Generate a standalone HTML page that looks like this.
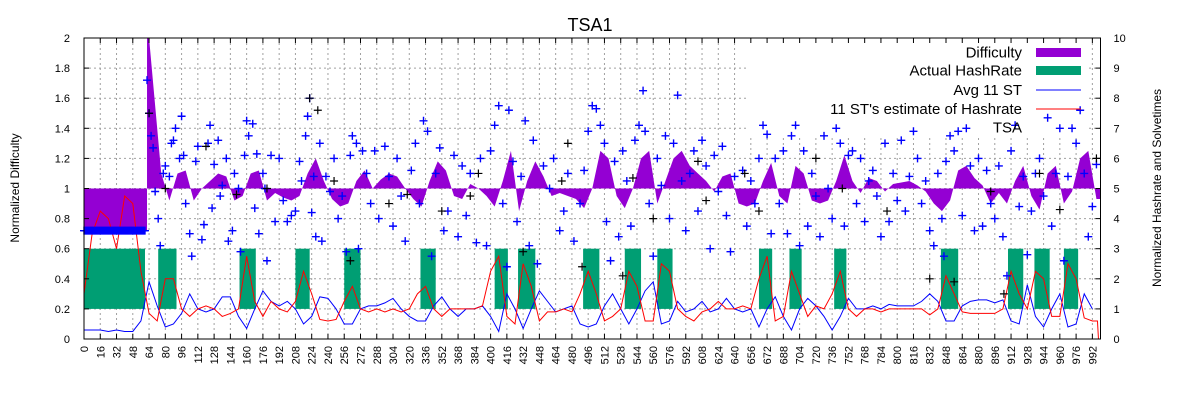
<!DOCTYPE html>
<html><head><meta charset="utf-8"><style>
html,body{margin:0;padding:0;background:#fff;}
svg{display:block;font-family:"Liberation Sans",sans-serif;}
</style></head><body>
<svg id="chart" width="1200" height="400" viewBox="0 0 1200 400"></svg>
<script>
// ---- data ----
const diffStep = 8;
const difficulty = [0.72,0.72,0.72,0.72,0.72,0.72,0.72,0.72,2.1,1.1,0.92,1.1,1.12,0.92,1.0,1.05,1.1,1.08,0.92,0.95,1.1,1.12,0.92,0.97,0.94,0.92,0.95,1.1,1.2,1.05,0.93,0.88,0.9,1.05,1.12,1.0,1.06,1.1,1.08,1.0,0.93,0.88,1.05,1.18,1.12,0.95,0.93,1.03,1.0,0.95,0.88,1.05,1.25,0.85,1.05,1.18,1.08,0.95,0.97,0.95,0.93,0.87,1.0,1.25,1.2,0.95,0.87,1.0,1.2,1.25,0.9,1.05,1.2,1.25,1.15,1.1,1.05,0.98,1.08,1.1,0.9,0.88,0.9,1.05,1.17,0.95,0.9,1.15,1.1,0.92,0.9,0.92,1.05,1.22,1.05,0.97,1.07,1.05,0.98,1.03,1.04,1.05,1.02,0.98,0.9,0.85,0.92,1.12,1.15,1.07,1.02,0.9,0.97,0.9,1.05,1.15,0.95,0.86,1.1,1.15,0.9,0.98,1.2,1.25,0.93];
const avgST = [0.06,0.06,0.06,0.05,0.06,0.05,0.05,0.12,0.38,0.22,0.08,0.1,0.17,0.3,0.2,0.18,0.2,0.28,0.28,0.15,0.07,0.2,0.32,0.25,0.22,0.25,0.2,0.1,0.15,0.28,0.27,0.2,0.1,0.1,0.2,0.22,0.22,0.24,0.27,0.2,0.15,0.12,0.12,0.22,0.28,0.2,0.15,0.2,0.2,0.22,0.15,0.05,0.3,0.2,0.07,0.2,0.32,0.25,0.18,0.2,0.22,0.1,0.08,0.1,0.22,0.3,0.2,0.1,0.2,0.32,0.38,0.1,0.12,0.25,0.18,0.2,0.25,0.18,0.2,0.27,0.2,0.18,0.2,0.08,0.2,0.28,0.15,0.06,0.2,0.27,0.22,0.15,0.06,0.15,0.27,0.2,0.2,0.22,0.2,0.23,0.22,0.22,0.22,0.25,0.3,0.25,0.12,0.12,0.22,0.25,0.26,0.26,0.24,0.26,0.12,0.1,0.36,0.15,0.08,0.2,0.3,0.08,0.1,0.3,0.2];
const estHash = [0.3,0.7,0.85,0.8,0.6,0.95,0.9,0.45,0.17,0.12,0.4,0.4,0.2,0.15,0.2,0.22,0.2,0.15,0.17,0.2,0.55,0.25,0.15,0.25,0.2,0.18,0.25,0.45,0.3,0.13,0.12,0.13,0.25,0.35,0.2,0.18,0.2,0.18,0.2,0.18,0.2,0.3,0.35,0.2,0.15,0.2,0.2,0.2,0.2,0.22,0.45,0.55,0.15,0.1,0.5,0.35,0.12,0.18,0.18,0.2,0.18,0.3,0.45,0.3,0.12,0.15,0.2,0.45,0.35,0.12,0.12,0.5,0.45,0.2,0.15,0.12,0.18,0.2,0.25,0.2,0.2,0.22,0.2,0.4,0.55,0.12,0.15,0.45,0.3,0.15,0.22,0.2,0.3,0.45,0.2,0.15,0.2,0.2,0.18,0.2,0.2,0.2,0.2,0.2,0.16,0.2,0.42,0.3,0.18,0.17,0.17,0.17,0.17,0.2,0.45,0.3,0.2,0.45,0.4,0.15,0.15,0.5,0.4,0.14,0.12];
const hashStart = [0,73,153,208,256,331,404,427,491,532,564,664,694,738,843,909,935,964];
const hashEnd   = [60,91,169,222,272,346,417,444,507,548,579,677,706,750,860,924,950,978];
const hashHigh = 3, hashLow = 1;
const tsaInitValue = 0.72, tsaInitEnd = 60;
const tsaX = [62,64,66,68,70,73,75,78,80,84,86,88,90,94,96,98,100,104,106,110,112,116,118,122,124,126,128,132,134,136,140,142,146,148,152,154,158,160,162,166,168,170,172,176,178,180,184,188,192,196,200,204,208,212,214,218,220,222,224,226,228,232,234,238,242,246,250,254,258,262,264,268,270,274,278,282,286,290,296,300,304,308,312,316,322,326,330,334,338,342,346,350,354,358,364,368,372,376,380,386,390,396,400,404,408,412,416,418,422,426,430,434,438,442,446,452,458,462,468,472,476,482,488,492,496,500,504,508,512,514,518,522,526,530,534,538,542,546,550,552,556,560,564,568,572,576,580,584,588,592,596,600,604,608,612,616,620,624,628,632,636,640,648,652,656,660,664,668,672,676,680,684,688,692,696,700,704,708,712,716,720,724,728,732,736,740,744,748,752,756,760,764,768,772,776,780,784,788,792,796,800,804,808,812,816,820,824,828,832,836,840,844,846,848,852,856,860,864,868,872,876,880,884,888,892,896,900,904,908,912,916,920,924,928,932,936,940,944,948,952,956,960,964,968,972,976,980,984,988,992,996];
const tsaY = [1.72,1.5,1.35,1.27,0.98,0.8,0.62,1.1,1.15,1.08,1.3,1.32,1.4,1.2,1.48,1.22,0.9,0.7,0.55,1.18,1.28,0.66,0.76,1.3,1.42,0.87,1.16,1.32,0.95,1.02,1.2,0.65,0.72,1.1,1.0,0.58,1.22,1.45,1.35,1.43,0.87,1.23,0.7,1.1,1.0,0.52,1.22,0.78,1.2,0.92,0.78,0.82,0.85,1.18,1.05,1.35,1.48,1.6,0.84,1.08,0.68,1.3,0.65,1.08,0.98,1.2,0.8,0.95,0.58,1.22,1.35,1.3,0.6,1.25,1.1,0.9,1.25,0.8,1.28,1.08,0.75,1.2,0.95,0.65,1.12,1.3,0.9,1.45,1.38,0.55,1.1,1.27,0.72,0.85,1.22,0.68,1.15,0.82,1.1,0.64,1.2,0.62,1.25,1.42,1.55,0.9,0.48,1.52,1.18,0.78,1.08,1.45,0.62,1.32,0.5,1.15,1.0,1.2,0.72,0.85,1.1,0.65,0.9,1.12,1.38,1.55,1.53,1.42,1.3,0.78,0.52,1.18,0.68,1.25,1.05,0.75,1.32,1.42,1.65,1.38,0.9,0.55,1.2,1.02,1.35,0.8,1.3,1.62,1.05,0.72,1.1,1.25,0.85,1.32,1.15,0.6,1.22,0.98,1.28,0.82,0.58,1.08,1.12,0.75,1.05,0.9,1.2,1.42,1.36,0.7,1.2,0.9,1.25,0.7,1.35,1.42,0.62,1.25,0.75,1.1,0.95,0.68,1.35,1.0,0.8,1.4,1.3,0.75,1.22,1.25,0.9,1.2,0.78,1.05,1.12,0.95,0.68,1.3,0.78,1.1,0.92,1.32,0.85,1.08,1.38,1.2,0.9,1.05,0.72,0.62,1.1,0.8,0.55,1.18,1.35,1.25,1.38,0.82,1.4,1.15,0.72,1.2,0.75,1.12,0.9,0.8,1.15,0.68,0.42,1.25,1.42,0.88,1.08,0.56,0.85,1.1,1.2,0.95,1.47,0.75,1.1,1.4,0.52,1.08,1.4,1.3,1.52,1.1,0.68,0.88,1.16];
const blkX = [64,80,120,150,180,222,230,246,262,300,318,352,380,388,432,470,476,490,530,540,560,604,612,650,664,720,746,790,832,856,892,905,940,960,996];
const blkY = [1.5,1.0,1.28,0.96,1.0,1.6,1.52,1.05,0.52,0.9,0.96,0.85,0.95,1.1,0.58,1.05,1.3,0.48,0.42,1.07,0.8,1.18,0.92,1.1,0.85,1.2,1.0,0.85,0.4,0.38,0.98,0.3,1.1,0.86,1.2];
const xTicks = []; for (let t = 0; t <= 992; t += 16) xTicks.push(t);
const yTicksL = [0,0.2,0.4,0.6,0.8,1,1.2,1.4,1.6,1.8,2];
const yLabelsL = ["0","0.2","0.4","0.6","0.8","1","1.2","1.4","1.6","1.8","2"];
const yTicksR = [0,1,2,3,4,5,6,7,8,9,10];

// ---- geometry ----
const L = 84, R = 1100.5, T = 38, B = 339;
const X = v => L + v * 1.0165;
const Y = v => B - (v / 2) * (B - T);
const YR = v => Y(v / 5);
const NS = "http://www.w3.org/2000/svg";
const svg = document.getElementById('chart');
function mk(tag, attrs, parent) {
  const e = document.createElementNS(NS, tag);
  for (const k in attrs) e.setAttribute(k, attrs[k]);
  (parent || svg).appendChild(e);
  return e;
}

// grid
const grid = mk('g', {stroke:'#a0a0a0','stroke-width':1,'stroke-dasharray':'2,3',fill:'none'});


xTicks.forEach(t => { if (t > 0) mk('line', {x1:X(t), x2:X(t), y1:T, y2:B}, grid); });
yTicksL.forEach(t => { if (t > 0 && t < 2) mk('line', {x1:L, x2:R, y1:Y(t), y2:Y(t)}, grid); });

// legend background
const lbg = mk('rect', {x:746, y:T+1, width:341, height:97, fill:'#fff'});



// actual hashrate blocks
const hg = mk('g', {fill:'#009e73'});


hashStart.forEach((s, i) => {
  const r = mk('rect', {x:X(s), y:YR(hashHigh), width:X(hashEnd[i]) - X(s), height:YR(hashLow) - YR(hashHigh)}, hg);
  
  
});

// difficulty area (relative to 1), clipped at 2
const clip = v => Math.min(2, v);
let dp = `M${X(0)},${Y(1)} L${X(0)},${Y(difficulty[0])}`;
difficulty.forEach((v, i) => {
  const x0 = i * diffStep, x1 = Math.min(1000, x0 + diffStep);
  if (i < 8) dp += ` L${X(x0)},${Y(clip(v))} L${X(x1 - 2)},${Y(clip(v))}`;
  else if (i === 8) dp += ` L${X(x0 - 2)},${Y(clip(v))} L${X(x0)},${Y(clip(v))}`;
  else dp += ` L${X(x0 + diffStep / 2)},${Y(clip(v))}`;
});
dp += ` L${X(1000)},${Y(difficulty[difficulty.length - 1])} L${X(1000)},${Y(1)} Z`;
const diffPath = mk('path', {d:dp, fill:'#9400d3', stroke:'none'});



// lines
function linePath(arr) {
  return arr.map((v, i) => (i ? 'L' : 'M') + X(i * diffStep) + ',' + Y(v)).join(' ');
}
const blueLine = mk('path', {d:linePath(avgST), fill:'none', stroke:'#0000ff', 'stroke-width':1});


const redLine = mk('path', {d:linePath(estHash) + ` L${X(997)},${Y(0.12)} L${X(998)},${Y(0)}`, fill:'none', stroke:'#ff0000', 'stroke-width':1});



// crosses
function cross(g, x, y) {
  const px = X(x), py = Y(y);
  mk('path', {d:`M${px-4},${py} H${px+4} M${px},${py-4} V${py+4}`}, g);
}
const tg = mk('g', {stroke:'#0000ff', 'stroke-width':1.4, fill:'none'});


for (let x = 0; x <= tsaInitEnd; x += 1) {
  const px = X(x), py = Y(tsaInitValue);
  mk('path', {d:`M${px-4},${py} H${px+4} M${px},${py-4} V${py+4}`}, tg);
}
tsaX.forEach((x, i) => cross(tg, x, tsaY[i]));
const kg = mk('g', {stroke:'#000', 'stroke-width':1.2, fill:'none'});


blkX.forEach((x, i) => cross(kg, x, blkY[i]));

// frame
const frame = mk('rect', {x:L, y:T, width:R - L, height:B - T, fill:'none', stroke:'#000', 'stroke-width':1});



// ticks and labels
const ax = mk('g', {stroke:'#000', 'stroke-width':1});


xTicks.forEach(t => {
  mk('line', {x1:X(t), x2:X(t), y1:B, y2:B - 5}, ax);
  mk('line', {x1:X(t), x2:X(t), y1:T, y2:T + 5}, ax);
  const tx = mk('text', {x:0, y:0, 'font-size':11, fill:'#000', 'text-anchor':'end', transform:`translate(${X(t) + 4},${B + 7}) rotate(-90)`, stroke:'none'});
  
  
  tx.textContent = t;
});
yTicksL.forEach((t, i) => {
  mk('line', {x1:L, x2:L + 5, y1:Y(t), y2:Y(t)}, ax);
  const tx = mk('text', {x:L - 14, y:Y(t) + 4, 'font-size':11, fill:'#000', 'text-anchor':'end', stroke:'none'});
  
  
  tx.textContent = yLabelsL[i];
});
yTicksR.forEach(t => {
  mk('line', {x1:R, x2:R - 5, y1:YR(t), y2:YR(t)}, ax);
  const tx = mk('text', {x:R + 13, y:YR(t) + 4, 'font-size':11, fill:'#000', 'text-anchor':'start', stroke:'none'});
  
  
  tx.textContent = t;
});

// legend
const legendItems = [
  ['Difficulty', 'rect', '#9400d3', 52.5],
  ['Actual HashRate', 'rect', '#009e73', 70.5],
  ['Avg 11 ST', 'line', '#0000ff', 90],
  ["11 ST's estimate of Hashrate", 'line', '#ff0000', 109],
  ['TSA', 'none', '', 127.5]
];
legendItems.forEach(it => {
  const g = mk('g', {});
  
  
  const tx = mk('text', {x:1022, y:it[3] + 5, 'font-size':15, 'text-anchor':'end', fill:'#000'}, g);
  tx.textContent = it[0];
  if (it[1] === 'rect') mk('rect', {x:1036, y:it[3] - 4.5, width:45, height:9, fill:it[2]}, g);
  if (it[1] === 'line') mk('line', {x1:1036, x2:1081, y1:it[3], y2:it[3], stroke:it[2], 'stroke-width':1}, g);
});

// titles
const title = mk('text', {x:590, y:31, 'font-size':18, 'text-anchor':'middle', fill:'#000'});


title.textContent = 'TSA1';
const yl = mk('text', {x:0, y:0, 'font-size':12, 'text-anchor':'middle', fill:'#000', transform:'translate(19,188) rotate(-90)'});


yl.textContent = 'Normalized Difficulty';
const yr = mk('text', {x:0, y:0, 'font-size':12, 'text-anchor':'middle', fill:'#000', transform:'translate(1161,188) rotate(-90)'});


yr.textContent = 'Normalized Hashrate and Solvetimes';
</script>
</body></html>
